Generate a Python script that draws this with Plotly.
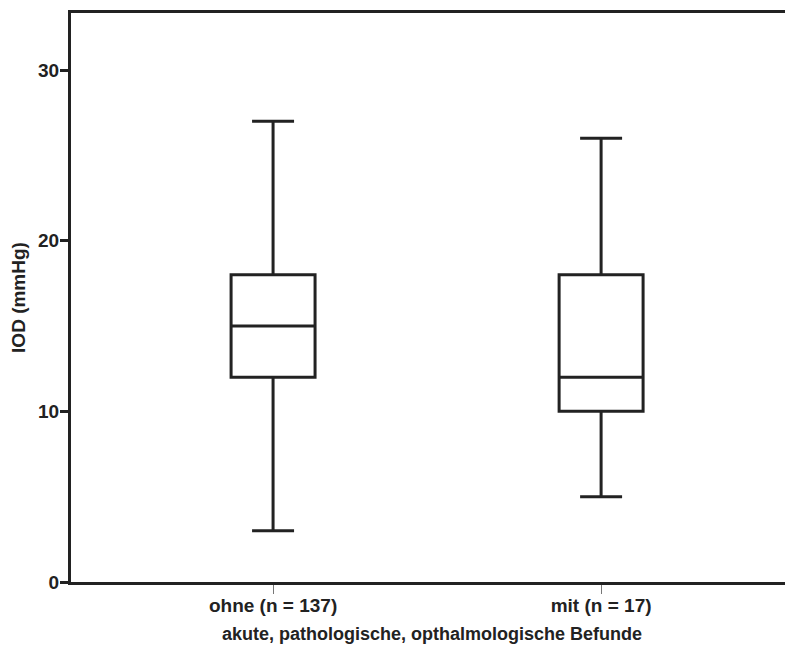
import plotly.graph_objects as go

categories = ["ohne (n = 137)", "mit (n = 17)"]
positions = [0, 1]
lower_whisker = [3, 5]
q1 = [12, 10]
median = [15, 12]
q3 = [18, 18]
upper_whisker = [27, 26]
y_ticks = [0, 10, 20, 30]

FONT = "Liberation Sans, Arial, Helvetica, sans-serif"
DARK = "#222222"

fig = go.Figure()
fig.add_trace(go.Box(
    x=positions,
    q1=q1, median=median, q3=q3,
    lowerfence=lower_whisker, upperfence=upper_whisker,
    boxpoints=False,
    width=0.256,
    whiskerwidth=0.5,
    fillcolor="white",
    line=dict(color=DARK, width=3),
    showlegend=False,
    hoverinfo="skip",
))

fig.update_layout(
    width=793, height=646,
    margin=dict(l=63, r=8, t=5, b=72),
    paper_bgcolor="white", plot_bgcolor="white",
    font=dict(family=FONT, color=DARK),
    showlegend=False,
    xaxis=dict(
        range=[-0.616, 1.585],
        tickvals=positions, ticktext=categories,
        showline=True, linecolor=DARK, linewidth=3, mirror=True,
        ticks="outside", ticklen=9, tickwidth=1, tickcolor="#777777",
        ticklabelstandoff=-5,
        tickfont=dict(family=FONT, size=19, weight="bold", color=DARK),
        showgrid=False, zeroline=False, automargin=False,
        title=dict(text="akute, pathologische, opthalmologische Befunde",
                   font=dict(family=FONT, size=18, weight="bold", color=DARK),
                   standoff=13),
    ),
    yaxis=dict(
        range=[0, 33.34],
        tickvals=y_ticks,
        showline=True, linecolor=DARK, linewidth=3, mirror=False,
        ticks="outside", ticklen=8, tickwidth=3, tickcolor=DARK,
        ticklabelstandoff=-3,
        tickfont=dict(family=FONT, size=19, weight="bold", color=DARK),
        showgrid=False, zeroline=False, automargin=False,
        title=dict(text="IOD (mmHg)",
                   font=dict(family=FONT, size=19, weight="bold", color=DARK),
                   standoff=16),
    ),
)

fig.write_html("out.html")
